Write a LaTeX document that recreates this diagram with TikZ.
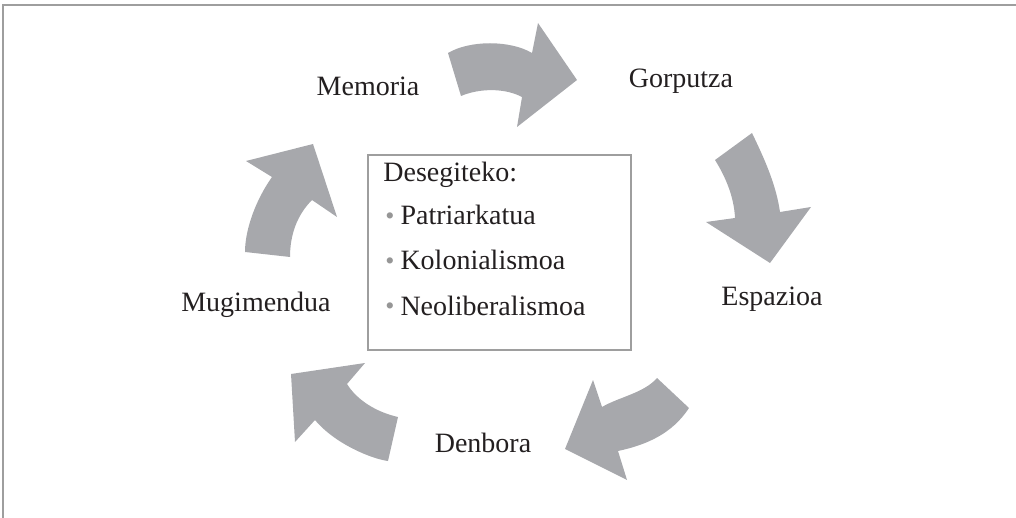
\documentclass[tikz,border=0pt]{standalone}
\usepackage{fontspec}
\setmainfont{Liberation Serif}
\usepackage{tikz}
\definecolor{arrowgray}{RGB}{167,168,172}
\definecolor{framegray}{RGB}{158,158,158}
\definecolor{bulletgray}{RGB}{150,150,150}
\definecolor{textblack}{RGB}{35,31,32}
\tikzstyle{cyclearrow} = [fill=arrowgray, draw=none]
\newcommand{\greybullet}{{\color{bulletgray}\raisebox{0.2pt}{\fontsize{13}{13}\selectfont\textbullet}}\hspace{3pt}}

\begin{document}
\begin{tikzpicture}[x=0.5pt, y=-0.5pt,
    stage/.style={font=\fontsize{14}{16}\selectfont, text=textblack, anchor=base, inner sep=0pt},
    item/.style={font=\fontsize{14}{16}\selectfont, text=textblack, anchor=base west, inner sep=0pt}]
\useasboundingbox (0,0) rectangle (1016,518);

% frame
\draw[framegray, line width=1pt] (1016,5.5) -- (3,5.5) -- (3,518);

% stages
\node[stage] (memoria) at (368,96) {Memoria};
\node[stage] (gorputza) at (681,88) {Gorputza};
\node[stage] (espazioa) at (772,305) {Espazioa};
\node[stage] (denbora) at (483,452) {Denbora};
\node[stage] (mugimendua) at (256,311) {Mugimendua};

% arrows between the stages
\fill[cyclearrow] (448,53) .. controls (470,40) and (510,40) .. (532,53)
    -- (538,23) -- (577,80) -- (517,127) -- (522,97)
    .. controls (505,88) and (480,88) .. (461,96) -- cycle;
\fill[cyclearrow] (752,133) .. controls (764,158) and (776,184) .. (780,212)
    -- (811,207) -- (770,263) -- (706,222) -- (735,218)
    .. controls (734,196) and (725,176) .. (715,160) -- cycle;
\fill[cyclearrow] (657,378) .. controls (644,393) and (619,397) .. (602,407)
    -- (593,380) -- (565,449) -- (627,480) -- (618,451)
    .. controls (646,445) and (672,434) .. (689,408) -- cycle;
\fill[cyclearrow] (388,461) .. controls (372,459) and (335,444) .. (315,420)
    -- (295,442) -- (291,374) -- (365,363) -- (347,384)
    .. controls (357,400) and (376,412) .. (398,417) -- cycle;
\fill[cyclearrow] (245,252) .. controls (245,228) and (257,198) .. (272,177)
    -- (246,161) -- (313,144) -- (337,217) -- (312,200)
    .. controls (297,215) and (290,235) .. (290,257) -- cycle;

% centre box
\node[draw=framegray, line width=0.75pt, minimum width=131.5pt, minimum height=97.5pt, inner sep=0pt] (box) at (499.5,252.5) {};
\node[item] (title) at (383,182) {Desegiteko:};
\node[item] (patriarkatua) at (385,225) {\greybullet Patriarkatua};
\node[item] (kolonialismoa) at (385,270) {\greybullet Kolonialismoa};
\node[item] (neoliberalismoa) at (385,315) {\greybullet Neoliberalismoa};
\end{tikzpicture}
\end{document}
